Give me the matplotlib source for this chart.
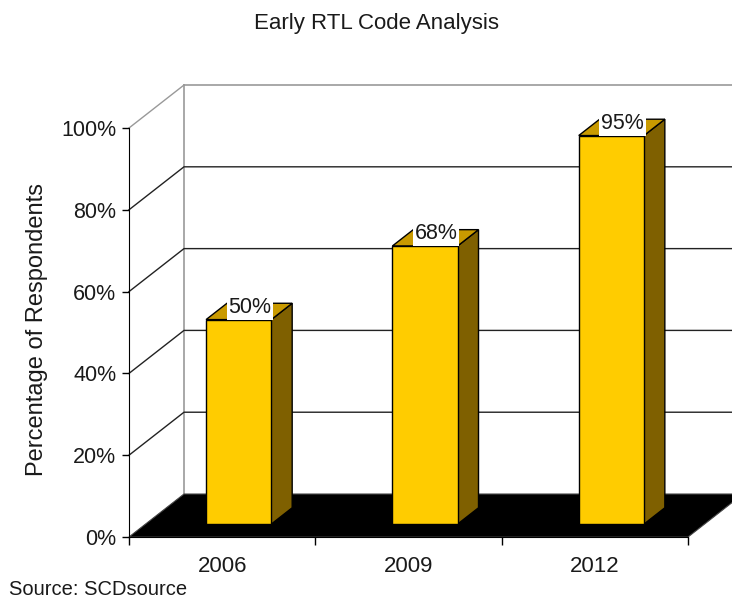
import matplotlib
matplotlib.use("Agg")
import matplotlib.pyplot as plt
from matplotlib.patches import Polygon

plt.rcParams['font.family'] = ['Liberation Sans', 'DejaVu Sans']

# ---- data ----
title = "Early RTL Code Analysis"
categories = ["2006", "2009", "2012"]
values = [50, 68, 95]
y_ticks = [0, 20, 40, 60, 80, 100]
y_tick_labels = ["0%", "20%", "40%", "60%", "80%", "100%"]
y_label = "Percentage of Respondents"
source = "Source: SCDsource"

# ---- style / geometry ----
W, H = 732, 603
FRONT = "#FFCC00"
SIDE = "#7F6000"
TOP = "#C99A00"
TXT = "#1a1a1a"
DX, DY = 0.2952, 10.51      # full depth offset in data units
D0, D1 = 0.30, 0.68         # bar depth range (fraction of full depth)
BW = 0.35                   # bar width in category units

fig = plt.figure(figsize=(W / 100, H / 100), dpi=100)
ax = fig.add_axes([129 / W, 1 - 537 / H, (688 - 129) / W, (537 - 128) / H])
ax.set_xlim(0, len(categories))
ax.set_ylim(0, 100)
ax.patch.set_alpha(0)


def P(x, y, d):
    return (x + d * DX, y + d * DY)


n = len(categories)
# back wall top border & left wall edges
ax.plot([P(0, 100, 1)[0], P(n, 100, 1)[0] + 1], [P(0, 100, 1)[1]] * 2,
        color="#999999", lw=1.2, clip_on=False, zorder=1)
ax.plot([P(0, 0, 1)[0]] * 2, [P(0, 0, 1)[1], P(0, 100, 1)[1]],
        color="#999999", lw=1.2, clip_on=False, zorder=1)
ax.plot([0, P(0, 100, 1)[0]], [100, P(0, 100, 1)[1]],
        color="#999999", lw=1.0, clip_on=False, zorder=1)
# gridlines on back wall and left wall
for t in y_ticks[1:-1]:
    ax.plot([0, P(0, t, 1)[0], P(n, t, 1)[0] + 1],
            [t, P(0, t, 1)[1], P(n, t, 1)[1]],
            color="#222222", lw=1.0, clip_on=False, zorder=1)

# floor
floor = Polygon([P(0, 0, 0), P(n, 0, 0), P(n, 0, 1), P(0, 0, 1)],
                closed=True, facecolor="black", edgecolor="#444444", lw=0.8,
                clip_on=False, zorder=2)
ax.add_patch(floor)

# bars
for i, v in enumerate(values):
    xl = i + 0.5 - BW / 2
    xr = i + 0.5 + BW / 2
    front = [P(xl, 0, D0), P(xr, 0, D0), P(xr, v, D0), P(xl, v, D0)]
    side = [P(xr, 0, D0), P(xr, 0, D1), P(xr, v, D1), P(xr, v, D0)]
    top = [P(xl, v, D0), P(xr, v, D0), P(xr, v, D1), P(xl, v, D1)]
    for pts, fc in ((side, SIDE), (top, TOP), (front, FRONT)):
        ax.add_patch(Polygon(pts, closed=True, facecolor=fc, edgecolor="black",
                             lw=1.0, clip_on=False, zorder=3, joinstyle="miter"))
    lx, ly = P(i + 0.5, v, D0)
    ax.text(lx + 0.06, ly + 0.4, f"{v}%", ha="center", va="bottom",
            fontsize=15.5, color=TXT, zorder=5,
            bbox=dict(boxstyle="square,pad=0.08", facecolor="white", edgecolor="none"))

# axes / ticks
for s in ("top", "right"):
    ax.spines[s].set_visible(False)
ax.spines["left"].set_color("black")
ax.spines["bottom"].set_color("black")
ax.spines["left"].set_zorder(6)
ax.spines["bottom"].set_zorder(6)
ax.set_yticks(y_ticks)
ax.set_yticklabels(y_tick_labels, fontsize=15.5, color=TXT)
ax.tick_params(axis="y", direction="out", length=5, width=1, pad=4)
ax.set_xticks(range(n + 1))
ax.set_xticklabels([""] * (n + 1))
ax.tick_params(axis="x", which="major", direction="out", length=6, width=1)
ax.set_xticks([i + 0.5 for i in range(n)], minor=True)
ax.set_xticklabels(categories, minor=True, fontsize=16, color=TXT)
ax.tick_params(axis="x", which="minor", length=0, pad=14)

fig.text(376 / W, 1 - 23 / H, title, ha="center", va="center", fontsize=16, color=TXT)
fig.text(37 / W, 1 - 329 / H, y_label, ha="center", va="center", rotation=90,
         fontsize=17, color=TXT)
fig.text(9 / W, 1 - 595 / H, source, ha="left", va="baseline", fontsize=14.5, color=TXT)

fig.savefig("out.png", dpi=100)
